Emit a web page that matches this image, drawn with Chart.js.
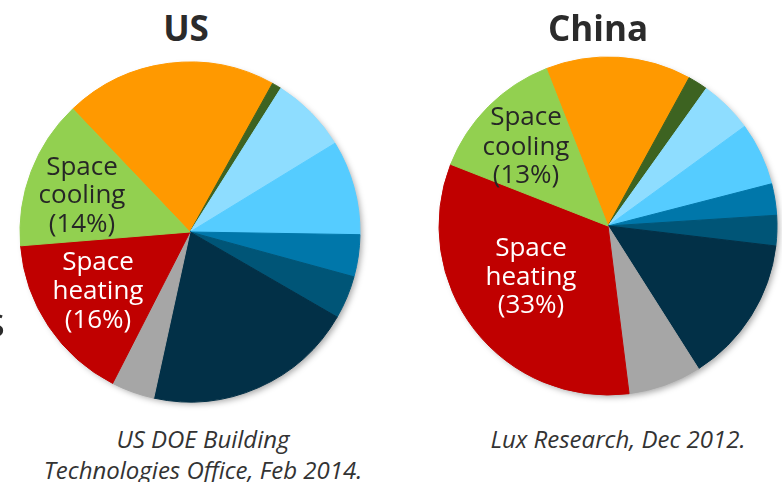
<!DOCTYPE html>
<html>
<head>
<meta charset="utf-8">
<script src="https://cdn.jsdelivr.net/npm/chart.js@4.4.0/dist/chart.umd.min.js"></script>
<style>
  html, body { margin: 0; padding: 0; background: #fff; }
  #wrap { position: relative; width: 782px; height: 482px; overflow: hidden; font-family: "Open Sans", sans-serif; }
  canvas { position: absolute; }
  .t { position: absolute; transform: translate(-50%, -50%); white-space: nowrap; }
  .title { font-weight: bold; font-size: 35px; color: #2b2b2b; }
  .lbl { font-size: 26px; }
  .dark { color: #262626; }
  .white { color: #ffffff; }
  .cap { font-style: italic; font-size: 24px; color: #333333; }
</style>
</head>
<body>
<div id="wrap">
  <canvas id="us" width="360" height="360" style="left:10px;top:52px;width:360px;height:360px"></canvas>
  <canvas id="cn" width="358" height="358" style="left:429px;top:47px;width:358px;height:358px"></canvas>

  <div class="t title" style="left:186px;top:27px">US</div>
  <div class="t title" style="left:598px;top:27px">China</div>

  <div class="t lbl dark" style="left:82px;top:165px">Space</div>
  <div class="t lbl dark" style="left:82px;top:193px">cooling</div>
  <div class="t lbl dark" style="left:82px;top:222px">(14%)</div>

  <div class="t lbl white" style="left:98px;top:260px">Space</div>
  <div class="t lbl white" style="left:98px;top:289px">heating</div>
  <div class="t lbl white" style="left:98px;top:318px">(16%)</div>

  <div class="t lbl dark" style="left:526px;top:115px">Space</div>
  <div class="t lbl dark" style="left:526px;top:145px">cooling</div>
  <div class="t lbl dark" style="left:526px;top:173px">(13%)</div>

  <div class="t lbl white" style="left:531px;top:246px">Space</div>
  <div class="t lbl white" style="left:531px;top:275px">heating</div>
  <div class="t lbl white" style="left:531px;top:303px">(33%)</div>

  <div class="t cap" style="left:203px;top:438px">US DOE Building</div>
  <div class="t cap" style="left:203px;top:469px">Technologies Office, Feb 2014.</div>
  <div class="t cap" style="left:618px;top:438px">Lux Research, Dec 2012.</div>

  <div class="t" style="left:-5px;top:320px;font-size:42px;color:#2b2b2b;">s</div>
</div>
<script>
// Categories (clockwise order, starting at the orange slice)
const categories = ["Other A", "Other B", "Other C", "Other D", "Other E", "Other F", "Other G", "Other H", "Space heating", "Space cooling"];
// Shares in percent
const usValues    = [20.2, 0.9, 7.3, 9.0, 4.0, 4.1, 20.1, 4.1, 16.2, 14.2];
const chinaValues = [13.9, 1.9, 5.1, 6.0, 3.0, 2.9, 14.1, 7.0, 32.9, 13.1];
const sliceColors = ["#FF9900", "#3D6321", "#8EDDFF", "#55CCFF", "#0077AA", "#005577", "#023047", "#A6A6A6", "#C00000", "#92D050"];

const shadowPlugin = {
  id: 'pieShadow',
  beforeDatasetsDraw(chart) {
    const arc = chart.getDatasetMeta(0).data[0];
    if (!arc) return;
    const ctx = chart.ctx;
    ctx.save();
    ctx.shadowColor = 'rgba(0,0,0,0.35)';
    ctx.shadowBlur = 6;
    ctx.shadowOffsetX = 3;
    ctx.shadowOffsetY = 3;
    ctx.fillStyle = '#ffffff';
    ctx.beginPath();
    ctx.arc(arc.x, arc.y, arc.outerRadius - 1, 0, Math.PI * 2);
    ctx.fill();
    ctx.restore();
  }
};

function makePie(id, values, rotation) {
  new Chart(document.getElementById(id), {
    type: 'pie',
    data: {
      labels: categories,
      datasets: [{
        data: values,
        backgroundColor: sliceColors,
        borderColor: sliceColors,
        borderWidth: 1,
        offset: 0,
        hoverOffset: 0
      }]
    },
    options: {
      responsive: false,
      animation: false,
      rotation: rotation,
      layout: { padding: 9.5 },
      plugins: { legend: { display: false }, tooltip: { enabled: false } },
      events: []
    },
    plugins: [shadowPlugin]
  });
}

makePie('us', usValues, 316.4);
makePie('cn', chinaValues, 338.6);
</script>
</body>
</html>
